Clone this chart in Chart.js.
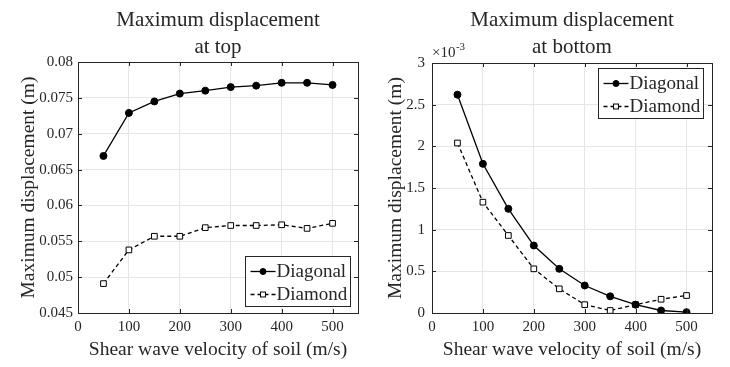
<!DOCTYPE html>
<html>
<head>
<meta charset="utf-8">
<script src="https://cdn.jsdelivr.net/npm/chart.js@4.4.0/dist/chart.umd.min.js"></script>
<style>
  html, body { margin: 0; padding: 0; background: #fff; }
  #wrap { position: relative; width: 730px; height: 367px; }
  .panel { position: absolute; top: 0; width: 365px; height: 367px; }
</style>
</head>
<body>
<div id="wrap">
  <div class="panel" style="left:0"><canvas id="topChart" width="365" height="367"></canvas></div>
  <div class="panel" style="left:365px"><canvas id="bottomChart" width="365" height="367"></canvas></div>
</div>
<script>
// ---- data ----
const velocity = [50, 100, 150, 200, 250, 300, 350, 400, 450, 500];
const seriesNames = ['Diagonal', 'Diamond'];
// max displacement at top (m)
const topDiagonal = [0.0669, 0.0729, 0.0745, 0.0756, 0.0760, 0.0765, 0.0767, 0.0771, 0.0771, 0.0768];
const topDiamond  = [0.0491, 0.0538, 0.0557, 0.0557, 0.0569, 0.0572, 0.0572, 0.0573, 0.0568, 0.0575];
// max displacement at bottom (x10^-3 m)
const bottomDiagonal = [2.62, 1.79, 1.25, 0.81, 0.53, 0.33, 0.20, 0.10, 0.03, 0.01];
const bottomDiamond  = [2.04, 1.33, 0.93, 0.53, 0.29, 0.10, 0.03, 0.10, 0.165, 0.21];
// tick labels
const xTicks = [0, 100, 200, 300, 400, 500];
const topYTicks = [0.045, 0.05, 0.055, 0.06, 0.065, 0.07, 0.075, 0.08];
const bottomYTicks = [0, 0.5, 1, 1.5, 2, 2.5, 3];

const FONT = '"Liberation Serif", "Times New Roman", serif';
const INK = '#262626';
const GRID = '#e6e6e6';

//----PLUGINS----
const frameBox = {
  id: 'frameBox',
  afterDraw(chart) {
    const { ctx, chartArea: { top, bottom, left, right }, scales: { x, y } } = chart;
    ctx.save();
    ctx.strokeStyle = INK;
    ctx.lineWidth = 1;
    ctx.strokeRect(Math.round(left) + 0.5, Math.round(top) + 0.5, Math.round(right - left), Math.round(bottom - top));
    ctx.beginPath();
    x.ticks.forEach(t => {
      const px = Math.round(x.getPixelForValue(t.value)) + 0.5;
      ctx.moveTo(px, bottom); ctx.lineTo(px, bottom - 4);
      ctx.moveTo(px, top); ctx.lineTo(px, top + 4);
    });
    y.ticks.forEach(t => {
      const py = Math.round(y.getPixelForValue(t.value)) + 0.5;
      ctx.moveTo(left, py); ctx.lineTo(left + 4, py);
      ctx.moveTo(right, py); ctx.lineTo(right - 4, py);
    });
    ctx.stroke();
    ctx.restore();
  }
};

function drawMarker(ctx, ds, cx, cy, r) {
  ctx.save();
  ctx.setLineDash([]);
  ctx.lineWidth = 1;
  ctx.strokeStyle = ds.pointBorderColor;
  ctx.fillStyle = ds.pointBackgroundColor;
  if (ds.pointStyle === 'rect') {
    const s = r * Math.SQRT1_2;
    ctx.fillRect(cx - s, cy - s, 2 * s, 2 * s);
    ctx.strokeRect(cx - s, cy - s, 2 * s, 2 * s);
  } else {
    ctx.beginPath();
    ctx.arc(cx, cy, r, 0, Math.PI * 2);
    ctx.fill();
    ctx.stroke();
  }
  ctx.restore();
}

const boxLegend = {
  id: 'boxLegend',
  afterDraw(chart, args, opts) {
    const { ctx, chartArea: { top, bottom, right } } = chart;
    const w = 105, h = 50;
    const bx = Math.round(right - opts.right - w) + 0.5;
    const by = opts.corner === 'top' ? Math.round(top + opts.gap) + 0.5 : Math.round(bottom - opts.gap - h) + 0.5;
    ctx.save();
    ctx.fillStyle = '#fff';
    ctx.fillRect(bx, by, w, h);
    ctx.strokeStyle = INK;
    ctx.lineWidth = 1;
    ctx.strokeRect(bx, by, w, h);
    chart.data.datasets.forEach((ds, i) => {
      const cy = by + 15 + i * 23;
      ctx.beginPath();
      ctx.strokeStyle = ds.borderColor;
      ctx.lineWidth = ds.borderWidth;
      ctx.setLineDash(ds.borderDash || []);
      ctx.moveTo(bx + 5, cy);
      ctx.lineTo(bx + 30, cy);
      ctx.stroke();
      drawMarker(ctx, ds, bx + 17.5, cy, ds.pointRadius - 0.5);
      ctx.fillStyle = INK;
      ctx.font = '19px ' + FONT;
      ctx.textBaseline = 'middle';
      ctx.textAlign = 'left';
      ctx.fillText(ds.label, bx + 31, cy + 1);
    });
    ctx.restore();
  }
};

const panelTitle = {
  id: 'panelTitle',
  afterDraw(chart, args, opts) {
    const { ctx, chartArea: { left, right, top } } = chart;
    ctx.save();
    ctx.fillStyle = INK;
    ctx.font = '21px ' + FONT;
    ctx.textAlign = 'center';
    ctx.textBaseline = 'middle';
    opts.lines.forEach((line, i) => ctx.fillText(line, (left + right) / 2, 20 + i * 27));
    if (opts.exponent) {
      ctx.textAlign = 'left';
      ctx.textBaseline = 'alphabetic';
      ctx.font = '15px ' + FONT;
      ctx.fillText('\u00d710', left, top - 6);
      const w = ctx.measureText('\u00d710').width;
      ctx.font = '11px ' + FONT;
      ctx.fillText(opts.exponent, left + w + 0.5, top - 13);
    }
    ctx.restore();
  }
};

//----CONFIG----
function makeDatasets(diag, diam) {
  return [
    {
      label: seriesNames[0],
      data: velocity.map((v, i) => ({ x: v, y: diag[i] })),
      borderColor: '#000', borderWidth: 1.3,
      pointStyle: 'circle', pointRadius: 3.5,
      pointBackgroundColor: '#000', pointBorderColor: '#000', pointBorderWidth: 1,
      tension: 0
    },
    {
      label: seriesNames[1],
      data: velocity.map((v, i) => ({ x: v, y: diam[i] })),
      borderColor: '#000', borderWidth: 1.3, borderDash: [4, 3],
      pointStyle: 'rect', pointRadius: 4,
      pointBackgroundColor: '#fff', pointBorderColor: '#000', pointBorderWidth: 1,
      tension: 0
    }
  ];
}

function makeConfig(p) {
  return {
    type: 'line',
    data: { datasets: makeDatasets(p.diag, p.diam) },
    options: {
      responsive: false,
      animation: false,
      layout: { padding: p.padding },
      scales: {
        x: {
          type: 'linear', min: 0, max: 550,
          afterBuildTicks: s => { s.ticks = xTicks.map(v => ({ value: v })); },
          afterFit: s => { s.height = 54; },
          grid: { color: GRID, drawTicks: false },
          border: { display: false },
          ticks: { padding: 5, color: INK, font: { family: FONT, size: 15 }, callback: v => String(v) },
          title: { display: true, text: 'Shear wave velocity of soil (m/s)', color: INK,
                   font: { family: FONT, size: 19.5 }, padding: { top: 0, bottom: 5 } }
        },
        y: {
          type: 'linear', min: p.yTicks[0], max: p.yTicks[p.yTicks.length - 1],
          afterBuildTicks: s => { s.ticks = p.yTicks.map(v => ({ value: v })); },
          afterFit: s => { s.width = p.yWidth; },
          grid: { color: GRID, drawTicks: false },
          border: { display: false },
          ticks: { padding: p.tickPad, color: INK, font: { family: FONT, size: 15 },
                   callback: v => String(parseFloat(v.toFixed(4))) },
          title: { display: true, text: 'Maximum displacement (m)', color: INK,
                   font: { family: FONT, size: 19.5 }, padding: { top: p.titlePad, bottom: 0 } }
        }
      },
      plugins: {
        legend: { display: false },
        tooltip: { enabled: false },
        panelTitle: { lines: p.title, exponent: p.exponent },
        boxLegend: p.legend
      }
    },
    plugins: [frameBox, boxLegend, panelTitle]
  };
}

new Chart(document.getElementById('topChart'), makeConfig({
  diag: topDiagonal, diam: topDiamond, yTicks: topYTicks,
  padding: { top: 62, right: 7, bottom: 0, left: 0 },
  yWidth: 78, tickPad: 5, titlePad: 17,
  title: ['Maximum displacement', 'at top'],
  legend: { corner: 'bottom', right: 8, gap: 7 }
}));

new Chart(document.getElementById('bottomChart'), makeConfig({
  diag: bottomDiagonal, diam: bottomDiamond, yTicks: bottomYTicks,
  padding: { top: 63, right: 18, bottom: 0, left: 0 },
  yWidth: 67, tickPad: 7, titlePad: 19,
  title: ['Maximum displacement', 'at bottom'],
  exponent: '-3',
  legend: { corner: 'top', right: 9, gap: 5 }
}));
</script>
</body>
</html>
